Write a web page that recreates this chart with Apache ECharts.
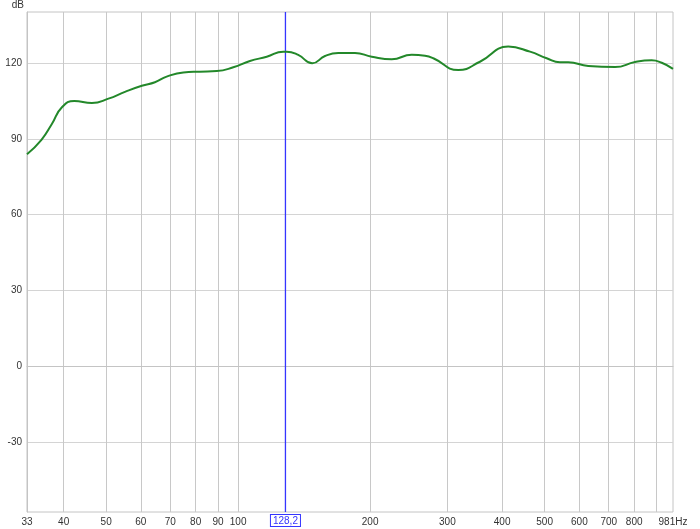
<!DOCTYPE html>
<html>
<head>
<meta charset="utf-8">
<title>Frequency response</title>
<script src="https://cdn.jsdelivr.net/npm/echarts@6/dist/echarts.min.js"></script>
<style>
  html, body { margin: 0; padding: 0; background: #fff; }
  #chart { width: 700px; height: 529px; }
</style>
</head>
<body>
<div id="chart"></div>
<script>
// frequency (Hz) and level (dB)
const freqs = [33, 35.6, 37.6, 39.6, 42.3, 46.4, 50.6, 55.2, 60.3, 64.6, 68.7, 75, 81.8, 89.4, 97.5,
  106.4, 116.2, 126.8, 129, 137.1, 147.6, 157.8, 169.2, 184.7, 201.7, 224, 248.8, 266.8, 278.7,
  317.8, 356, 413, 463, 505.4, 542, 566, 628.8, 723.6, 803.6, 877, 924.7, 981];
const levels = [83.9, 89.6, 95.9, 102.4, 105.0, 104.2, 105.9, 108.6, 111.0, 112.4, 114.6, 116.3, 116.6, 116.8, 118.3,
  120.8, 122.5, 124.5, 124.5, 123.2, 119.9, 122.8, 124.0, 124.0, 122.5, 121.5, 123.3, 122.9, 121.9,
  117.2, 120.5, 126.5, 124.5, 121.9, 120.3, 120.3, 118.8, 118.4, 120.4, 121.1, 120.1, 117.7];

const xGridValues = [40, 50, 60, 70, 80, 90, 100, 200, 300, 400, 500, 600, 700, 800, 900];
const xLabelValues = [33, 40, 50, 60, 70, 80, 90, 100, 200, 300, 400, 500, 600, 700, 800, 981];
const yTickValues = [-30, 0, 30, 60, 90, 120];
const yMin = -57.7, yMax = 140.2;
const cursorFreq = 128.2;

const chart = echarts.init(document.getElementById('chart'));
const cursorBlue = '#3535ff';

chart.setOption({
  animation: false,
  backgroundColor: '#ffffff',
  grid: {
    left: 27, right: 27, top: 12, bottom: 17,
    show: true, borderColor: '#c4c4c4', borderWidth: 1
  },
  xAxis: {
    type: 'log',
    logBase: 10,
    min: 33,
    max: 981,
    axisLine: { show: true, lineStyle: { color: '#c4c4c4' } },
    axisTick: { show: false, customValues: xGridValues },
    splitLine: { show: true, lineStyle: { color: '#c8c8c8', width: 1 } },
    axisLabel: {
      customValues: xLabelValues,
      margin: 5,
      fontSize: 10,
      color: '#333',
      fontFamily: 'Liberation Sans, Arial, sans-serif',
      formatter: v => (Math.round(v) === 981 ? '981Hz' : String(Math.round(v)))
    }
  },
  yAxis: {
    type: 'value',
    min: yMin,
    max: yMax,
    name: 'dB',
    nameLocation: 'end',
    nameGap: 2,
    nameTextStyle: {
      align: 'right', verticalAlign: 'bottom', padding: [0, 3, 0, 0],
      fontSize: 10, color: '#333', fontFamily: 'Liberation Sans, Arial, sans-serif'
    },
    axisLine: { show: true, lineStyle: { color: '#c4c4c4' } },
    axisTick: { show: false, customValues: yTickValues },
    splitLine: { show: true, lineStyle: { color: '#d4d4d4', width: 1 } },
    axisLabel: {
      customValues: yTickValues,
      margin: 5,
      fontSize: 10,
      color: '#333',
      fontFamily: 'Liberation Sans, Arial, sans-serif'
    }
  },
  series: [
    {
      // cursor line
      type: 'line',
      data: [[cursorFreq, yMin], [cursorFreq, yMax]],
      showSymbol: false,
      silent: true,
      z: 1,
      lineStyle: { color: cursorBlue, width: 1.3 },
      itemStyle: { color: cursorBlue },
      markLine: {
        silent: true,
        symbol: 'none',
        lineStyle: { color: 'rgba(0,0,0,0)', width: 1 },
        label: {
          show: true,
          position: 'start',
          distance: 3,
          formatter: '128,2',
          color: cursorBlue,
          fontSize: 10,
          fontFamily: 'Liberation Sans, Arial, sans-serif',
          backgroundColor: '#fff',
          borderColor: cursorBlue,
          borderWidth: 1,
          padding: [1, 2, 0, 2]
        },
        data: [{ xAxis: cursorFreq }]
      }
    },
    {
      type: 'line',
      data: freqs.map((f, i) => [f, levels[i]]),
      smooth: 0.5,
      showSymbol: false,
      z: 2,
      lineStyle: { color: '#23882a', width: 2 }
    }
  ]
});
</script>
</body>
</html>
